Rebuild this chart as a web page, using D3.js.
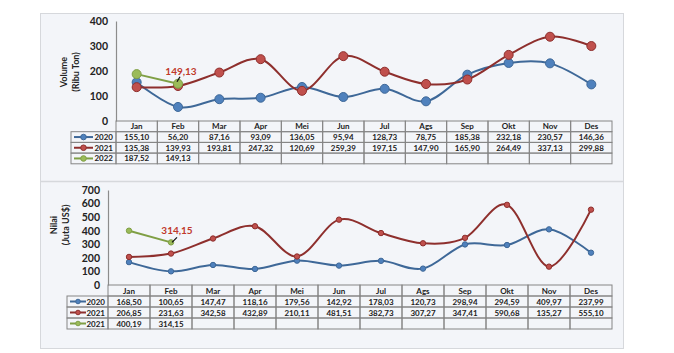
<!DOCTYPE html>
<html>
<head>
<meta charset="utf-8">
<script src="https://cdn.jsdelivr.net/npm/d3@7"></script>
<style>
  body { margin: 0; background: #fff; }
  svg text { font-family: Lato, "Open Sans", sans-serif; }
</style>
</head>
<body>
<div id="chart"></div>
<script>
const months = ["Jan", "Feb", "Mar", "Apr", "Mei", "Jun", "Jul", "Ags", "Sep", "Okt", "Nov", "Des"];

// Volume (Ribu Ton)
const volumeLabels = ["2020", "2021", "2022"];
const volume2020 = [155.10, 56.20, 87.16, 93.09, 136.05, 95.94, 128.73, 78.75, 185.38, 232.18, 230.57, 146.36];
const volume2021 = [135.38, 139.93, 193.81, 247.32, 120.69, 259.39, 197.15, 147.90, 165.90, 264.49, 337.13, 299.88];
const volume2022 = [187.52, 149.13];
const volumeTicks = [0, 100, 200, 300, 400];

// Nilai (Juta US$)
const nilaiLabels = ["2020", "2021", "2021"];
const nilai2020 = [168.50, 100.65, 147.47, 118.16, 179.56, 142.92, 178.03, 120.73, 298.94, 294.59, 409.97, 237.99];
const nilai2021 = [206.85, 231.63, 342.58, 432.89, 210.11, 481.51, 382.73, 307.27, 347.41, 590.68, 135.27, 555.10];
const nilai2022 = [400.19, 314.15];
const nilaiTicks = [0, 100, 200, 300, 400, 500, 600, 700];

const colors = [
  { line: "#3e6898", fill: "#4f81bd" },
  { line: "#8e2f2d", fill: "#c0504d" },
  { line: "#7f9f45", fill: "#9bbb59" }
];

const width = 674, height = 353;
const fmt = v => d3.format(".2f")(v).replace(".", ",");

const svg = d3.select("#chart").append("svg")
  .attr("width", width)
  .attr("height", height);

// panel backgrounds
svg.append("rect").attr("x", 40.5).attr("y", 13.5).attr("width", 583).attr("height", 335)
  .attr("fill", "#f3f5f9").attr("stroke", "#d6d8dc");
svg.append("line").attr("x1", 40).attr("x2", 624).attr("y1", 181.5).attr("y2", 181.5)
  .attr("stroke", "#d6d8dc").attr("stroke-width", 1.5);

function drawPanel(cfg) {
  const g = svg.append("g");

  const x = d3.scaleBand().domain(months).range([cfg.left, cfg.right]);
  const y = d3.scaleLinear().domain([0, cfg.max]).range([cfg.zero, cfg.top]);
  const cx = i => x(months[i]) + x.bandwidth() / 2;

  // y axis
  const yAxis = g.append("g")
    .attr("transform", `translate(${cfg.left},0)`)
    .call(d3.axisLeft(y).tickValues(cfg.ticks).tickSize(0).tickPadding(8).tickFormat(d3.format("d")));
  yAxis.select(".domain").attr("stroke", "#8c8c8c").attr("stroke-width", 1.2);
  yAxis.selectAll("text")
    .style("font-family", "Lato, sans-serif")
    .style("font-weight", "bold")
    .style("font-size", "10.5px")
    .attr("fill", "#222");

  // axis title
  const title = g.append("text")
    .attr("transform", `translate(${cfg.titleX},${cfg.titleY}) rotate(-90)`)
    .attr("text-anchor", "middle")
    .style("font-size", "9px")
    .style("font-weight", "bold")
    .attr("fill", "#222");
  title.append("tspan").attr("x", 0).attr("dy", 0).text(cfg.title[0]);
  title.append("tspan").attr("x", 0).attr("dy", 12).text(cfg.title[1]);

  // lines
  const line = d3.line()
    .x((d, i) => cx(i))
    .y(d => y(d))
    .curve(d3.curveCatmullRom.alpha(0));

  cfg.series.forEach((s, k) => {
    g.append("path")
      .datum(s)
      .attr("d", line)
      .attr("fill", "none")
      .attr("stroke", colors[k].line)
      .attr("stroke-width", cfg.lineWidth);
  });
  cfg.series.forEach((s, k) => {
    g.selectAll(null)
      .data(s)
      .join("circle")
      .attr("cx", (d, i) => cx(i))
      .attr("cy", d => y(d))
      .attr("r", cfg.r)
      .attr("fill", colors[k].fill)
      .attr("stroke", colors[k].line)
      .attr("stroke-width", 1);
  });

  // annotation on the last green point
  const last = cfg.series[2].length - 1;
  const v = cfg.series[2][last];
  const px = cx(last), py = y(v);
  const a = cfg.note;
  g.append("line")
    .attr("x1", px + a.lx1).attr("y1", py + a.ly1)
    .attr("x2", px + a.lx2).attr("y2", py + a.ly2)
    .attr("stroke", "#111").attr("stroke-width", 1.3);
  g.append("text")
    .attr("x", px + a.tx).attr("y", py + a.ty)
    .attr("text-anchor", "middle")
    .style("font-size", "10px")
    .style("font-weight", "bold")
    .attr("fill", "#c0392b")
    .text(fmt(v));

  // data table
  const rowH = cfg.rowH;
  const t0 = cfg.zero;
  const gridColor = "#858585";
  const tbl = g.append("g");

  // header cells
  tbl.selectAll(null)
    .data(months)
    .join("rect")
    .attr("x", d => x(d))
    .attr("y", t0)
    .attr("width", x.bandwidth())
    .attr("height", rowH)
    .attr("fill", "none")
    .attr("stroke", gridColor);
  tbl.selectAll(null)
    .data(months)
    .join("text")
    .attr("x", d => x(d) + x.bandwidth() / 2)
    .attr("y", t0 + rowH / 2 + 3)
    .attr("text-anchor", "middle")
    .style("font-size", "8px")
    .style("font-weight", "bold")
    .attr("fill", "#222")
    .text(d => d);

  cfg.series.forEach((s, k) => {
    const ry = t0 + rowH * (k + 1);
    // legend cell
    tbl.append("rect")
      .attr("x", cfg.legendLeft).attr("y", ry)
      .attr("width", cfg.left - cfg.legendLeft).attr("height", rowH)
      .attr("fill", "none").attr("stroke", gridColor);
    tbl.append("line")
      .attr("x1", cfg.legendLeft + 3).attr("x2", cfg.legendLeft + 3 + cfg.legendLine)
      .attr("y1", ry + rowH / 2).attr("y2", ry + rowH / 2)
      .attr("stroke", colors[k].line).attr("stroke-width", 2);
    tbl.append("circle")
      .attr("cx", cfg.legendLeft + 3 + cfg.legendLine / 2).attr("cy", ry + rowH / 2)
      .attr("r", cfg.legendR)
      .attr("fill", colors[k].fill).attr("stroke", colors[k].line);
    tbl.append("text")
      .attr("x", cfg.left - 3).attr("y", ry + rowH / 2 + 3)
      .attr("text-anchor", "end")
      .style("font-size", "8px")
      .style("font-weight", "bold")
      .attr("fill", "#222")
      .text(cfg.labels[k]);

    tbl.selectAll(null)
      .data(months)
      .join("rect")
      .attr("x", d => x(d))
      .attr("y", ry)
      .attr("width", x.bandwidth())
      .attr("height", rowH)
      .attr("fill", "none")
      .attr("stroke", gridColor);
    tbl.selectAll(null)
      .data(s)
      .join("text")
      .attr("x", (d, i) => cx(i))
      .attr("y", ry + rowH / 2 + 3)
      .attr("text-anchor", "middle")
      .style("font-size", "8px")
      .style("font-weight", "bold")
      .attr("fill", "#222")
      .text(d => fmt(d));
  });
}

drawPanel({
  left: 116, right: 612, zero: 121, top: 21, max: 400, ticks: volumeTicks,
  series: [volume2020, volume2021, volume2022], labels: volumeLabels,
  title: ["Volume", "(Ribu Ton)"], titleX: 67, titleY: 72,
  r: 4.5, lineWidth: 2, rowH: 10.7, legendLeft: 71, legendR: 2.8, legendLine: 19,
  note: { tx: 3, ty: -9, lx1: 2, ly1: -7, lx2: -1, ly2: -2 }
});

drawPanel({
  left: 108, right: 612, zero: 285, top: 190, max: 700, ticks: nilaiTicks,
  series: [nilai2020, nilai2021, nilai2022], labels: nilaiLabels,
  title: ["Nilai", "(Juta US$)"], titleX: 57, titleY: 225,
  r: 2.7, lineWidth: 2, rowH: 11, legendLeft: 67, legendR: 2.3, legendLine: 16,
  note: { tx: 6, ty: -8, lx1: 6, ly1: -5, lx2: 1, ly2: 0 }
});
</script>
</body>
</html>
